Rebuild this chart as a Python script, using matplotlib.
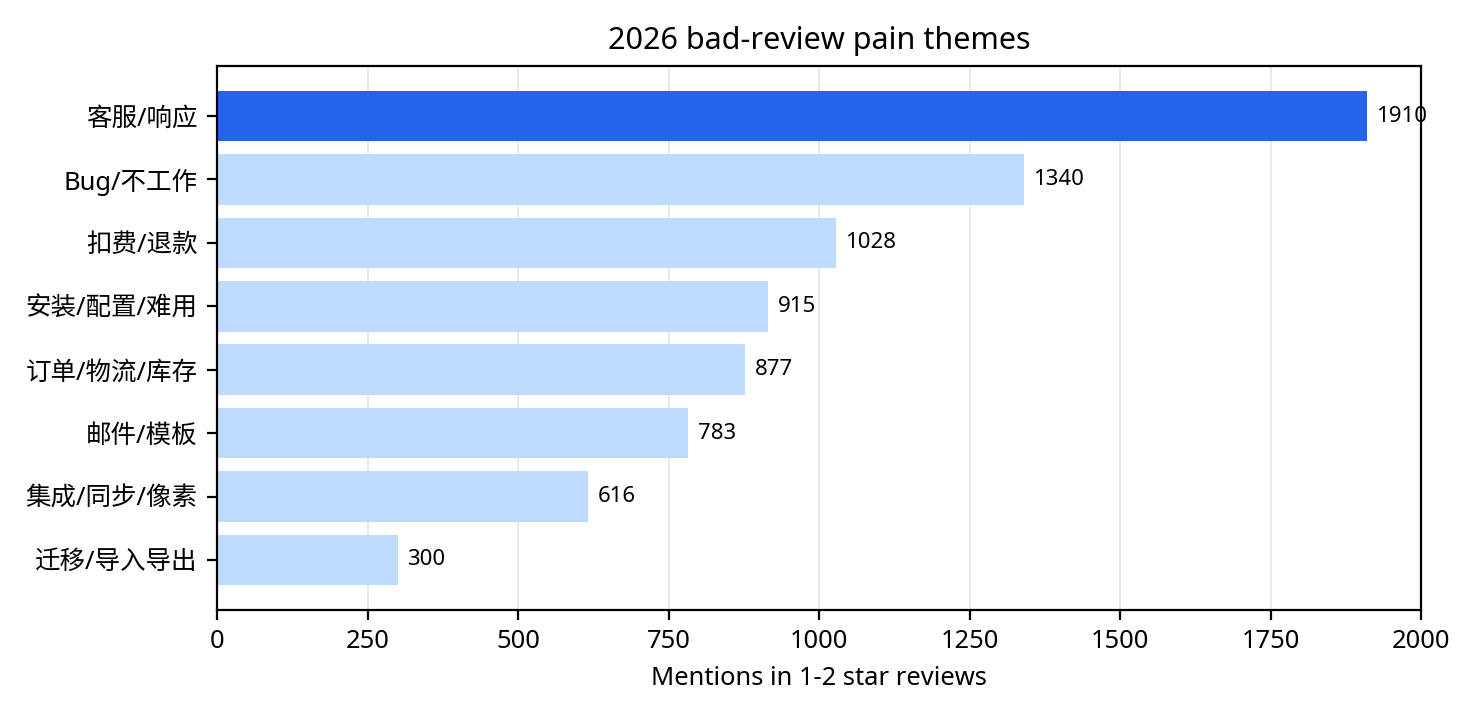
import matplotlib
matplotlib.use("Agg")
import matplotlib.pyplot as plt

plt.rcParams['font.family'] = ['Noto Sans', 'Noto Sans CJK SC', 'DejaVu Sans']

categories = ["客服/响应", "Bug/不工作", "扣费/退款", "安装/配置/难用",
              "订单/物流/库存", "邮件/模板", "集成/同步/像素", "迁移/导入导出"]
values = [1910, 1340, 1028, 915, 877, 783, 616, 300]
highlight = "#2563EB"
base = "#BFDBFE"
colors = [highlight] + [base] * (len(values) - 1)

fig = plt.figure(figsize=(7.375, 3.6), dpi=200)
ax = fig.add_axes([217/1475, 1 - 610/720, (1421-217)/1475, (610-66)/720])

ypos = list(range(len(categories)))
ax.barh(ypos, values, color=colors, height=0.8, zorder=2)
ax.invert_yaxis()
ax.set_yticks(ypos)
ax.set_yticklabels(categories, fontsize=9.2)
ax.set_xlim(0, 2000)
ax.set_xticks([0, 250, 500, 750, 1000, 1250, 1500, 1750, 2000])
ax.tick_params(axis='x', labelsize=9.2)
ax.grid(axis='x', color='#cccccc', alpha=0.5, linewidth=0.6, zorder=0)
ax.set_axisbelow(True)

for y, v in zip(ypos, values):
    ax.text(v + 16, y, str(v), va='center', ha='left', fontsize=8)

ax.set_title("2026 bad-review pain themes", fontsize=11, pad=6)
ax.set_xlabel("Mentions in 1-2 star reviews", fontsize=9.2, labelpad=4)

fig.savefig("out.png", dpi=200)
